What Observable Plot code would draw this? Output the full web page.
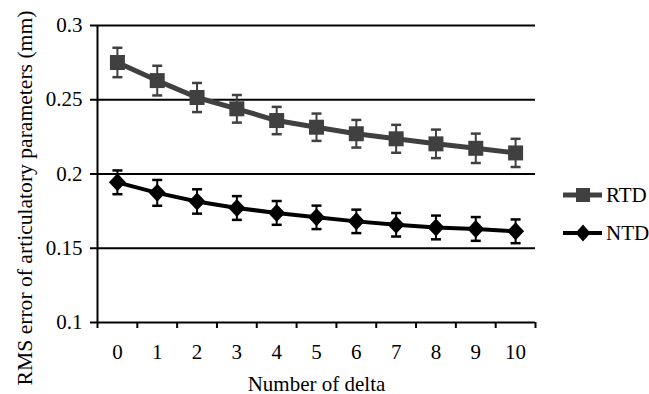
<!DOCTYPE html>
<html>
<head>
<meta charset="utf-8">
<script src="https://cdn.jsdelivr.net/npm/d3@7"></script>
<script src="https://cdn.jsdelivr.net/npm/@observablehq/plot@0.6"></script>
<style>
  html, body { margin: 0; padding: 0; background: #fff; }
  #wrap { position: relative; width: 649px; height: 394px; }
  #wrap svg, #wrap svg text { font-family: 'Liberation Serif', 'Times New Roman', Times, 'DejaVu Serif', serif !important; }
  #legend { position: absolute; left: 555px; top: 180px; }
</style>
</head>
<body>
<div id="wrap"></div>
<script>
const deltas = [0, 1, 2, 3, 4, 5, 6, 7, 8, 9, 10];
const rtd    = [0.2751, 0.2629, 0.2515, 0.2439, 0.2360, 0.2315, 0.2271, 0.2237, 0.2203, 0.2173, 0.2142];
const rtdErr = [0.0099, 0.0100, 0.0098, 0.0093, 0.0092, 0.0092, 0.0093, 0.0094, 0.0096, 0.0099, 0.0095];
const ntd    = [0.1944, 0.1873, 0.1815, 0.1771, 0.1738, 0.1708, 0.1681, 0.1658, 0.1640, 0.1630, 0.1614];
const ntdErr = [0.0080, 0.0087, 0.0082, 0.0080, 0.0080, 0.0079, 0.0079, 0.0079, 0.0080, 0.0080, 0.0080];
const yTicks = [0.1, 0.15, 0.2, 0.25, 0.3];
const seriesNames = ["RTD", "NTD"];
const yLabel = "RMS error of articulatory parameters (mm)";
const xLabel = "Number of delta";

const rtdData = deltas.map((d, i) => ({x: d, v: rtd[i], e: rtdErr[i]}));
const ntdData = deltas.map((d, i) => ({x: d, v: ntd[i], e: ntdErr[i]}));
const bandEdges = d3.range(deltas.length + 1).map(i => deltas[0] - 0.5 + i);

const capSymbol = {draw(ctx) { ctx.moveTo(-5, 0); ctx.lineTo(5, 0); }};
const diamondSymbol = {draw(ctx) { const w = 8.5, h = 9; ctx.moveTo(0, -h); ctx.lineTo(w, 0); ctx.lineTo(0, h); ctx.lineTo(-w, 0); ctx.closePath(); }};
const squareSymbol = {draw(ctx) { const s = 7.5; ctx.rect(-s, -s, 2 * s, 2 * s); }};

const RTD_COLOR = "#404040";
const NTD_COLOR = "#000000";
const FS = "21px";

function errMarks(data, color) {
  return [
    Plot.ruleX(data, {x: "x", y1: d => d.v - d.e, y2: d => d.v + d.e, stroke: color, strokeWidth: 2}),
    Plot.dot(data, {x: "x", y: d => d.v + d.e, symbol: capSymbol, stroke: color, strokeWidth: 2.5, r: 5}),
    Plot.dot(data, {x: "x", y: d => d.v - d.e, symbol: capSymbol, stroke: color, strokeWidth: 2.5, r: 5})
  ];
}

const chart = Plot.plot({
  width: 649,
  height: 394,
  marginLeft: 97,
  marginRight: 114,
  marginTop: 25,
  marginBottom: 72,
  style: {fontSize: FS, color: "#000", background: "#fff", overflow: "visible"},
  x: {type: "linear", domain: [bandEdges[0], bandEdges[bandEdges.length - 1]]},
  y: {type: "linear", domain: [yTicks[0], yTicks[yTicks.length - 1]]},
  marks: [
    Plot.ruleY(yTicks.slice(1), {stroke: "#000", strokeWidth: 2}),
    Plot.ruleX([bandEdges[0]], {stroke: "#000", strokeWidth: 2}),
    Plot.ruleY([yTicks[0]], {stroke: "#000", strokeWidth: 2}),
    Plot.axisY({ticks: yTicks, tickFormat: d => String(d), tickSize: 7, tickPadding: 8, strokeWidth: 2, label: null}),
    Plot.text([yLabel], {frameAnchor: "left", rotate: -90, textAnchor: "middle", lineAnchor: "bottom",
      dx: -66, dy: 24, fontSize: "21.6px", fill: "#000"}),
    Plot.axisX({ticks: bandEdges, tickFormat: () => "", tickSize: 6, strokeWidth: 2, label: null}),
    Plot.axisX({ticks: deltas, tickFormat: d => String(d), tickSize: 0, tickPadding: 22,
      label: xLabel, labelAnchor: "center", labelOffset: 68, labelArrow: "none"}),
    ...errMarks(rtdData, RTD_COLOR),
    Plot.line(rtdData, {x: "x", y: "v", stroke: RTD_COLOR, strokeWidth: 5}),
    Plot.dot(rtdData, {x: "x", y: "v", symbol: squareSymbol, fill: RTD_COLOR, r: 8}),
    ...errMarks(ntdData, NTD_COLOR),
    Plot.line(ntdData, {x: "x", y: "v", stroke: NTD_COLOR, strokeWidth: 4}),
    Plot.dot(ntdData, {x: "x", y: "v", symbol: diamondSymbol, fill: NTD_COLOR, r: 8})
  ]
});

const wrap = document.getElementById("wrap");
wrap.appendChild(chart);

// legend
const ns = "http://www.w3.org/2000/svg";
const leg = document.createElementNS(ns, "svg");
leg.setAttribute("id", "legend");
leg.setAttribute("width", 94);
leg.setAttribute("height", 72);
const legColors = [RTD_COLOR, NTD_COLOR];
const legWidths = [5, 4];
seriesNames.forEach((name, i) => {
  const cy = 15 + i * 38;
  const line = document.createElementNS(ns, "line");
  line.setAttribute("x1", 8); line.setAttribute("x2", 47);
  line.setAttribute("y1", cy); line.setAttribute("y2", cy);
  line.setAttribute("stroke", legColors[i]); line.setAttribute("stroke-width", legWidths[i]);
  leg.appendChild(line);
  const m = document.createElementNS(ns, "path");
  m.setAttribute("d", i === 0 ? `M${28-7},${cy-7}h14v14h-14z` : `M28,${cy-8.5}l7.5,8.5l-7.5,8.5l-7.5,-8.5z`);
  m.setAttribute("fill", legColors[i]);
  leg.appendChild(m);
  const t = document.createElementNS(ns, "text");
  t.setAttribute("x", 51); t.setAttribute("y", cy);
  t.setAttribute("dy", "0.35em");
  t.setAttribute("font-size", FS);
  t.textContent = name;
  leg.appendChild(t);
});
wrap.appendChild(leg);
</script>
</body>
</html>
